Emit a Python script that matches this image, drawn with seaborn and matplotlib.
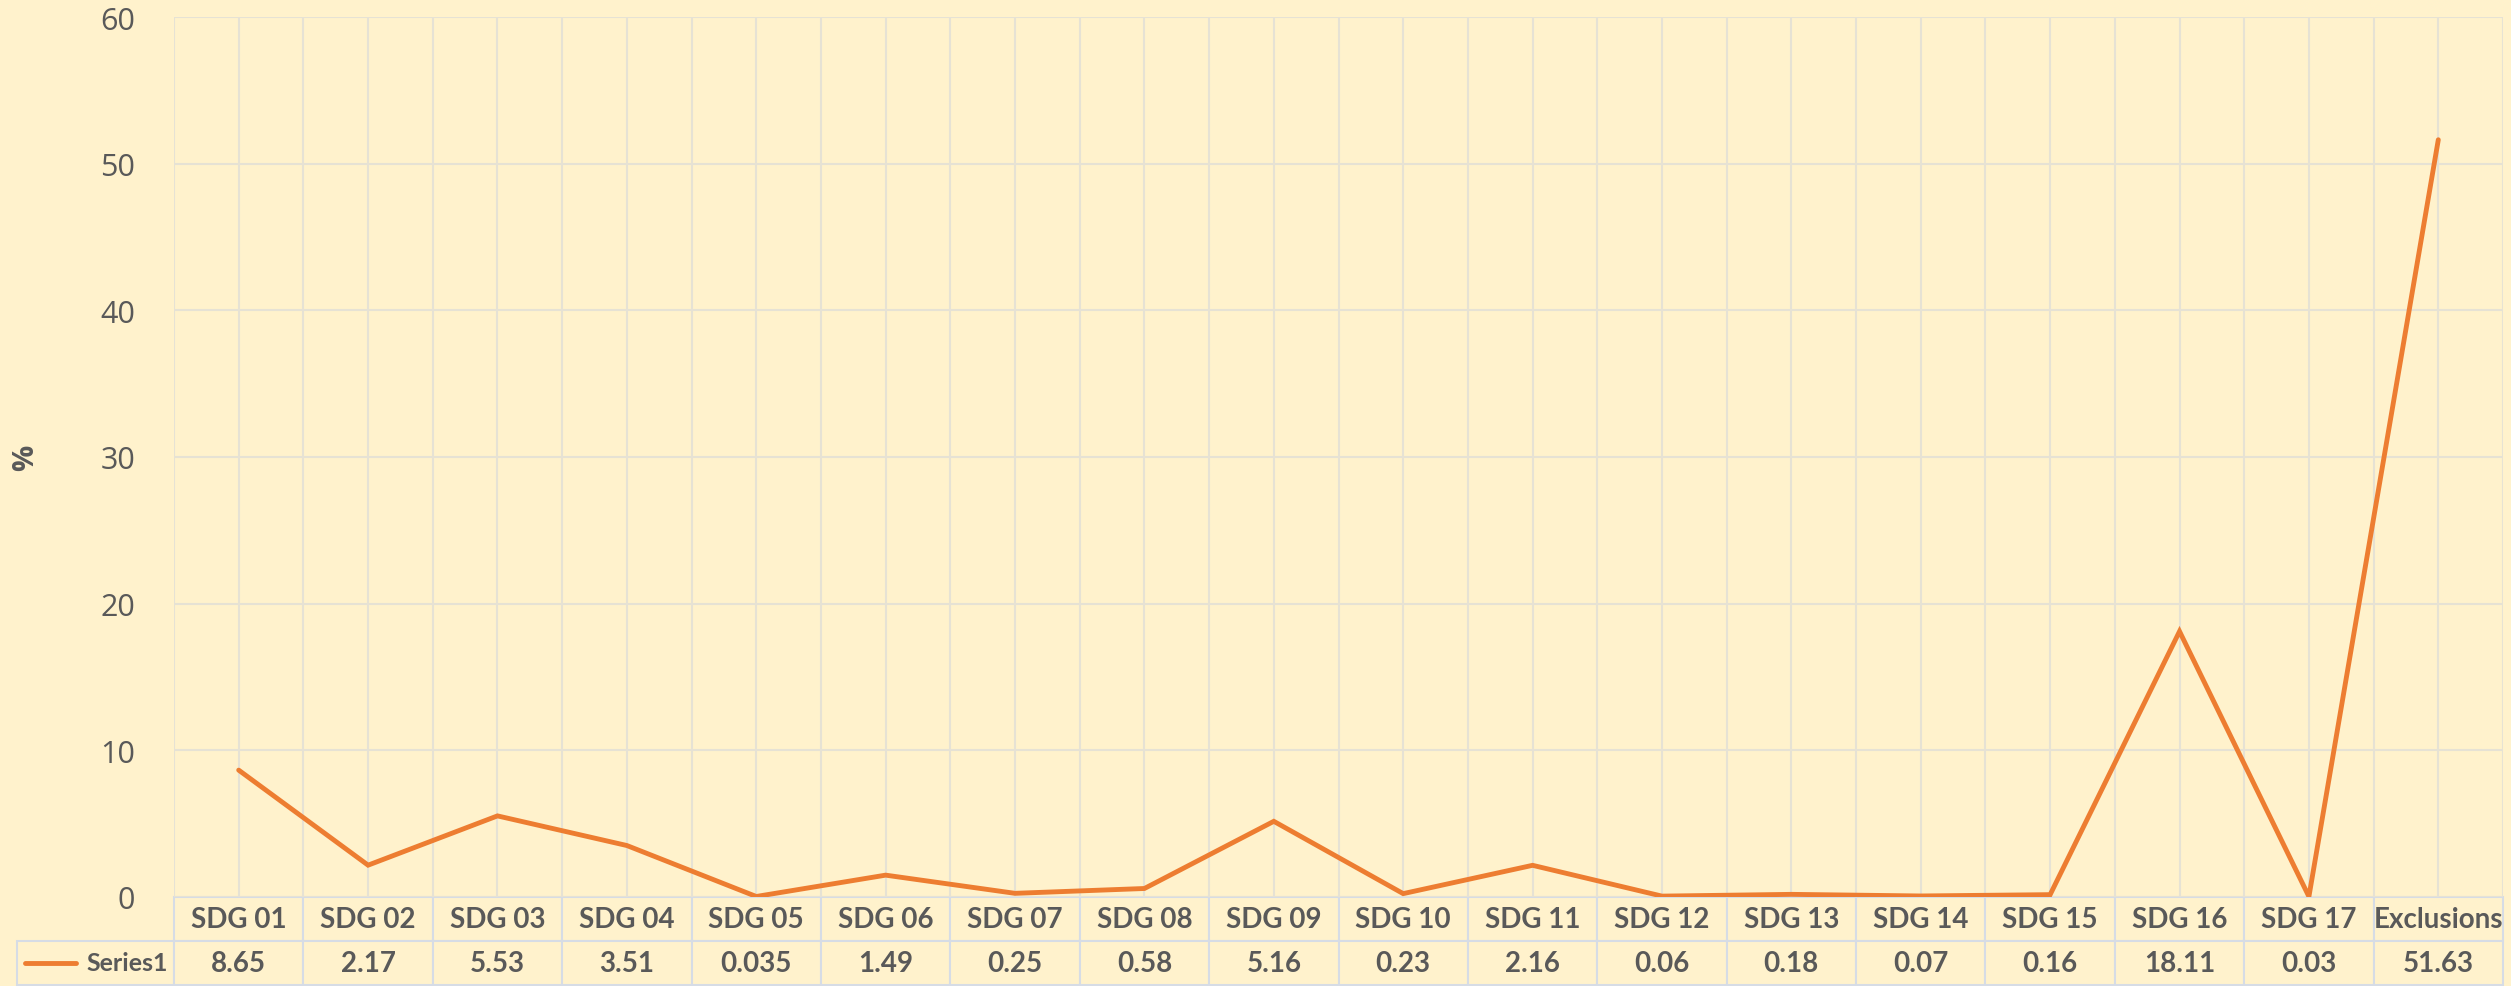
import numpy as np
import matplotlib.pyplot as plt
import seaborn as sns
from matplotlib.lines import Line2D

categories = ['SDG 01', 'SDG 02', 'SDG 03', 'SDG 04', 'SDG 05', 'SDG 06', 'SDG 07',
              'SDG 08', 'SDG 09', 'SDG 10', 'SDG 11', 'SDG 12', 'SDG 13', 'SDG 14',
              'SDG 15', 'SDG 16', 'SDG 17', 'Exclusions']
values = [8.65, 2.17, 5.53, 3.51, 0.035, 1.49, 0.25, 0.58, 5.16, 0.23, 2.16,
          0.06, 0.18, 0.07, 0.16, 18.11, 0.03, 51.63]
series_name = 'Series1'
y_ticks = [0, 10, 20, 30, 40, 50, 60]

bg = '#FFF2CC'
line_color = '#ED7D31'
text_color = '#595959'
grid_color = '#E6E2D4'
table_edge = '#D6DCE5'

sns.set_style('white')
plt.rcParams['font.family'] = ['Open Sans', 'DejaVu Sans']

fig = plt.figure(figsize=(25.11, 9.87), dpi=100, facecolor=bg)
ax = fig.add_axes([174 / 2511, 1 - 898 / 987, 2329 / 2511, 880 / 987])
ax.set_facecolor(bg)

x = np.arange(len(categories))
sns.lineplot(x=x, y=values, ax=ax, color=line_color, linewidth=3.5,
             solid_capstyle='round', solid_joinstyle='miter')

ax.set_xlim(-0.5, len(categories) - 0.5)
ax.set_ylim(0, 60)
ax.set_yticks(y_ticks)
ax.set_xticks(x)
ax.set_xticks(np.arange(-0.5, len(categories), 1.0), minor=True)
ax.set_xticklabels([])
ax.grid(True, which='both', color=grid_color, linewidth=1.5)
ax.tick_params(axis='both', which='both', length=0)
ax.tick_params(axis='y', labelsize=22, labelcolor=text_color, pad=28)
for s in ax.spines.values():
    s.set_visible(False)

ax.set_ylabel('%', fontsize=21, fontweight='bold', color=text_color)
ax.yaxis.set_label_coords((40 - 174) / 2329, 0.5)

# data table below the plot
cell_text = [[''] + categories, [series_name] + [f'{v:g}' for v in values]]
col_w = [157] + [2329 / len(categories)] * len(categories)
tbl = ax.table(cellText=cell_text, colWidths=col_w, cellLoc='center',
               bbox=[(17 - 174) / 2329, -0.1, 2486 / 2329, 0.1])
tbl.auto_set_font_size(False)
for (r, c), cell in tbl.get_celld().items():
    cell.set_facecolor(bg)
    cell.set_edgecolor(table_edge)
    cell.set_linewidth(1.5)
    t = cell.get_text()
    t.set_fontsize(20)
    t.set_fontweight('bold')
    t.set_color(text_color)
    t.set_fontfamily(['Lato', 'DejaVu Sans'])
    if r == 0 and c == 0:
        cell.visible_edges = ''
    if r == 1 and c == 0:
        t.set_fontsize(18)
        t.set_ha('right')
        cell._loc = 'right'
        cell.PAD = 0.04

# legend key in the series cell
fig.add_artist(Line2D([25 / 2511, 76 / 2511], [1 - 964 / 987, 1 - 964 / 987],
                      color=line_color, linewidth=3.5, solid_capstyle='round'))

fig.savefig('out.png', dpi=100, facecolor=bg)
